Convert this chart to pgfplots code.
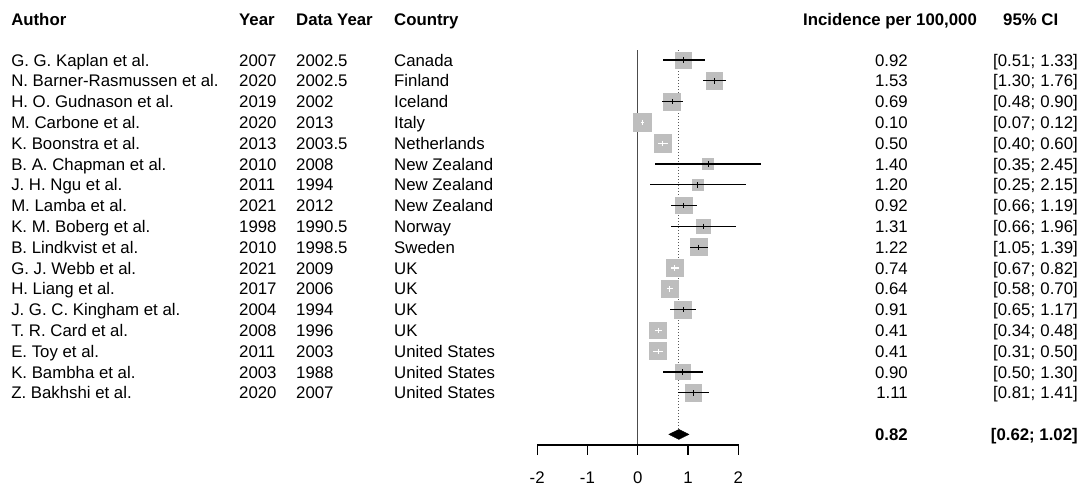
\documentclass[border=0pt]{standalone}
\usepackage{pgfplots}
\pgfplotsset{compat=1.18}
\usepackage{pgfplotstable}
\usepackage{fontspec}
\setmainfont{Liberation Sans}
\definecolor{sq}{HTML}{BEBEBE}
\newcommand\tf{\fontsize{16.8}{20}\selectfont}
\pgfplotstableread[col sep=comma]{
row,author,year,dy,country,est,lo,hi,sz,in
1,G. G. Kaplan et al.,2007,2002.5,Canada,0.92,0.51,1.33,8.0,0
2,N. Barner-Rasmussen et al.,2020,2002.5,Finland,1.53,1.30,1.76,8.3,0
3,H. O. Gudnason et al.,2019,2002,Iceland,0.69,0.48,0.90,8.5,0
4,M. Carbone et al.,2020,2013,Italy,0.10,0.07,0.12,8.8,1
5,K. Boonstra et al.,2013,2003.5,Netherlands,0.50,0.40,0.60,8.8,1
6,B. A. Chapman et al.,2010,2008,New Zealand,1.40,0.35,2.45,5.3,0
7,J. H. Ngu et al.,2011,1994,New Zealand,1.20,0.25,2.15,5.5,0
8,M. Lamba et al.,2021,2012,New Zealand,0.92,0.66,1.19,8.3,0
9,K. M. Boberg et al.,1998,1990.5,Norway,1.31,0.66,1.96,6.7,0
10,B. Lindkvist et al.,2010,1998.5,Sweden,1.22,1.05,1.39,8.7,0
11,G. J. Webb et al.,2021,2009,UK,0.74,0.67,0.82,8.8,1
12,H. Liang et al.,2017,2006,UK,0.64,0.58,0.70,8.7,1
13,J. G. C. Kingham et al.,2004,1994,UK,0.91,0.65,1.17,8.5,0
14,T. R. Card et al.,2008,1996,UK,0.41,0.34,0.48,8.3,1
15,E. Toy et al.,2011,2003,United States,0.41,0.31,0.50,8.3,1
16,K. Bambha et al.,2003,1988,United States,0.90,0.50,1.30,7.5,0
17,Z. Bakhshi et al.,2020,2007,United States,1.11,0.81,1.41,8.3,0
}\data
\begin{document}
\begin{tikzpicture}
\begin{axis}[
  set layers,
  x=50.25pt, y=20.8pt, y dir=reverse,
  xmin=-12.69, xmax=8.862, ymin=-1.885, ymax=21.53,
  hide axis, clip=false,
  txt/.style={draw=none, mark=none, nodes near coords, point meta=explicit symbolic,
     every node near coord/.append style={anchor=base #1, yshift=-6pt, font=\tf, text=black, inner sep=0pt}},
]
\coordinate (bl) at (rel axis cs:0,0);
\coordinate (tr) at (rel axis cs:1,1);
% text columns
\addplot[txt=west] table[x expr=-12.47, y=row, meta=author] {\data};
\addplot[txt=west] table[x expr=-7.934, y=row, meta=year] {\data};
\addplot[txt=west] table[x expr=-6.80, y=row, meta=dy] {\data};
\addplot[txt=west] table[x expr=-4.85, y=row, meta=country] {\data};
\addplot[txt=east] table[x expr=5.379, y=row, meta=est] {\data};
\addplot[txt=west, nodes near coords={{[}\pgfplotspointmeta;}] table[x expr=7.071, y=row, meta=lo] {\data};
\addplot[txt=east, nodes near coords={\pgfplotspointmeta{]}}] table[x expr=8.762, y=row, meta=hi] {\data};
% headers
\begin{scope}[every node/.style={anchor=base west, yshift=-6pt, font=\tf\bfseries, inner sep=0pt}]
\node at (axis cs:-12.47,-0.95) {Author};
\node at (axis cs:-7.934,-0.95) {Year};
\node at (axis cs:-6.80,-0.95) {Data Year};
\node at (axis cs:-4.85,-0.95) {Country};
\node at (axis cs:3.29,-0.95) {Incidence per 100,000};
\node at (axis cs:7.27,-0.95) {95\% CI};
\end{scope}
\node[anchor=base east, yshift=-6pt, font=\tf\bfseries, inner sep=0pt] at (axis cs:5.379,19) {0.82};
\node[anchor=base east, yshift=-6pt, font=\tf\bfseries, inner sep=0pt] at (axis cs:8.762,19) {[0.62; 1.02]};
% reference lines
\addplot[black!70, line width=1.2pt] coordinates {(0,0.52) (0,19.51)};
\addplot[black!65, line width=1pt, dash pattern=on 1.2pt off 1.8pt] coordinates {(0.82,0.52) (0.82,18.76)};
% squares
\addplot[scatter, only marks, mark=square*, mark options={draw=sq, fill=sq, line width=0pt},
  scatter/use mapped color={draw=sq, fill=sq},
  visualization depends on={\thisrow{sz} \as \sz},
  scatter/@pre marker code/.append style={/tikz/mark size=\sz pt}]
  table[x=est, y=row] {\data};
% CIs black
\addplot[on layer=axis foreground, black, only marks, mark=|, mark size=2.7pt, mark options={line width=1pt, draw=black},
  restrict expr to domain={\thisrow{in}}{0:0},
  error bars/.cd, x dir=both, x explicit, error mark=none,
  error bar style={line width=1.2pt, black}]
  table[x=est, y=row, x error plus expr=\thisrow{hi}-\thisrow{est}, x error minus expr=\thisrow{est}-\thisrow{lo}] {\data};
% CIs white (inside square)
\addplot[on layer=axis foreground, white, only marks, mark=|, mark size=2.7pt, mark options={line width=1pt, draw=white},
  restrict expr to domain={\thisrow{in}}{1:1},
  error bars/.cd, x dir=both, x explicit, error mark=none,
  error bar style={line width=1.2pt, white}]
  table[x=est, y=row, x error plus expr=\thisrow{hi}-\thisrow{est}, x error minus expr=\thisrow{est}-\thisrow{lo}] {\data};
% summary diamond
\addplot[fill=black, draw=black] coordinates {(0.62,19) (0.82,18.76) (1.02,19) (0.82,19.24)} -- cycle;
% bottom axis
\addplot[black, line width=1.2pt] coordinates {(-2,19.99) (-2,19.51) (2,19.51) (2,19.99)};
\addplot[black, line width=1.2pt] coordinates {(-1,19.51) (-1,19.99)};
\addplot[black, line width=1.2pt] coordinates {(0,19.51) (0,19.99)};
\addplot[black, line width=1.2pt] coordinates {(1,19.51) (1,19.99)};
\begin{scope}[every node/.style={anchor=base, yshift=-6pt, font=\tf, inner sep=0pt}]
\node at (axis cs:-2,21.05) {-2};
\node at (axis cs:-1,21.05) {-1};
\node at (axis cs:0,21.05) {0};
\node at (axis cs:1,21.05) {1};
\node at (axis cs:2,21.05) {2};
\end{scope}
\end{axis}
\pgfresetboundingbox
\path (bl) rectangle (tr);
\end{tikzpicture}
\end{document}
